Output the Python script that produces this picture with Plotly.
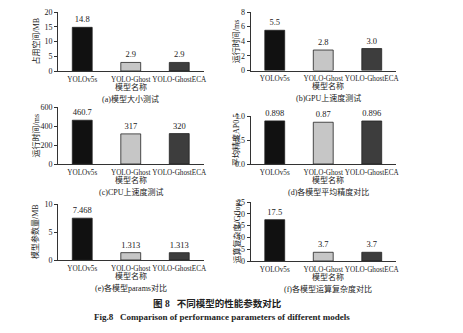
import plotly.graph_objects as go

W, H = 463, 333

models = ["YOLOv5s", "YOLO-Ghost", "YOLO-GhostECA"]
size_mb = [14.8, 2.9, 2.9]
size_lbl = ["14.8", "2.9", "2.9"]
gpu_ms = [5.5, 2.8, 3.0]
gpu_lbl = ["5.5", "2.8", "3.0"]
cpu_ms = [460.7, 317, 320]
cpu_lbl = ["460.7", "317", "320"]
ap50 = [0.898, 0.87, 0.896]
ap_lbl = ["0.898", "0.87", "0.896"]
params_mb = [7.468, 1.313, 1.313]
params_lbl = ["7.468", "1.313", "1.313"]
gflops = [17.5, 3.7, 3.7]
gflops_lbl = ["17.5", "3.7", "3.7"]

y_titles = ["占用空间/MB", "运行时间/ms", "运行时间/ms", "平均精度AP0.5", "模型参数量/MB", "运算复杂度/Gflops"]
subtitles = ["(a)模型大小测试", "(b)GPU上速度测试", "(c)CPU上速度测试",
             "(d)各模型平均精度对比", "(e)各模型params对比", "(f)各模型运算复杂度对比"]
x_title = "模型名称"
caption_cn = "图 8   不同模型的性能参数对比"
caption_en = "Fig.8   Comparison of performance parameters of different models"

bar_colors = ["#111111", "#c6c6c6", "#3d3d3d"]
FONT = "Liberation Serif, Noto Sans CJK SC"

panels = [
    dict(vals=size_mb, lbl=size_lbl, rng=[0, 20], dt=5, fmt="d", left=True, top=12, bot=71),
    dict(vals=gpu_ms, lbl=gpu_lbl, rng=[0, 8], dt=2, fmt="d", left=False, top=12, bot=70.5),
    dict(vals=cpu_ms, lbl=cpu_lbl, rng=[0, 600], dt=200, fmt="d", left=True, top=107, bot=164),
    dict(vals=ap50, lbl=ap_lbl, rng=[0, 1.0], dt=0.5, fmt=".1f", left=False, top=116, bot=164),
    dict(vals=params_mb, lbl=params_lbl, rng=[0, 10], dt=5, fmt="d", left=True, top=204, bot=260),
    dict(vals=gflops, lbl=gflops_lbl, rng=[0, 25], dt=5, fmt="d", left=False, top=202, bot=261),
]

fig = go.Figure()
layout = dict(width=W, height=H, margin=dict(l=0, r=0, t=0, b=0),
              paper_bgcolor="white", plot_bgcolor="white", showlegend=False,
              font=dict(family=FONT, size=8, color="#222"))
annotations = []

for i, p in enumerate(panels):
    n = "" if i == 0 else str(i + 1)
    xa, ya = "x" + n, "y" + n
    x0 = 58 if p["left"] else 250.5
    x1 = x0 + 145.5
    fig.add_trace(go.Bar(
        x=models, y=p["vals"], text=p["lbl"], textposition="outside",
        textfont=dict(family=FONT, size=8.5, color="#222"),
        marker=dict(color=bar_colors, line=dict(color="#222", width=0.8)),
        width=0.41, xaxis=xa, yaxis=ya, cliponaxis=False))
    layout["xaxis" + n] = dict(domain=[x0 / W, x1 / W], anchor=ya, showline=True,
                               linecolor="#333", linewidth=1, ticks="", showgrid=False,
                               tickangle=0, automargin=False, ticklabelstandoff=1,
                               tickfont=dict(family=FONT, size=7.2, color="#222"),
                               fixedrange=True)
    layout["yaxis" + n] = dict(domain=[1 - p["bot"] / H, 1 - p["top"] / H], anchor=xa,
                               range=p["rng"], dtick=p["dt"], tick0=0, tickformat=p["fmt"],
                               showline=True, linecolor="#333", linewidth=1,
                               ticks="outside", ticklen=3, tickcolor="#333",
                               showgrid=False, zeroline=False, automargin=False,
                               tickfont=dict(family=FONT, size=8, color="#222"))
    ty_x = 35 if p["left"] else 236
    annotations.append(dict(x=ty_x / W, y=1 - (p["top"] + p["bot"]) / 2 / H,
                            xref="paper", yref="paper", text=y_titles[i], textangle=-90,
                            showarrow=False, font=dict(family=FONT, size=8, color="#222"),
                            xanchor="center", yanchor="middle"))
    cx = 130.5 if p["left"] else 328
    annotations.append(dict(x=cx / W, y=1 - (p["bot"] + 16) / H, xref="paper", yref="paper",
                            text=x_title, showarrow=False,
                            font=dict(family=FONT, size=8, color="#222"),
                            xanchor="center", yanchor="middle"))
    annotations.append(dict(x=cx / W, y=1 - (p["bot"] + 28) / H, xref="paper", yref="paper",
                            text=subtitles[i], showarrow=False,
                            font=dict(family=FONT, size=8, color="#222"),
                            xanchor="center", yanchor="middle"))

annotations.append(dict(x=217 / W, y=1 - 303 / H, xref="paper", yref="paper",
                        text="<b>" + caption_cn + "</b>", showarrow=False,
                        font=dict(family=FONT, size=9.5, color="#222"),
                        xanchor="center", yanchor="middle"))
annotations.append(dict(x=222 / W, y=1 - 317 / H, xref="paper", yref="paper",
                        text="<b>" + caption_en + "</b>", showarrow=False,
                        font=dict(family=FONT, size=9, color="#222"),
                        xanchor="center", yanchor="middle"))
layout["annotations"] = annotations
fig.update_layout(**layout)
fig.write_html("out.html")
